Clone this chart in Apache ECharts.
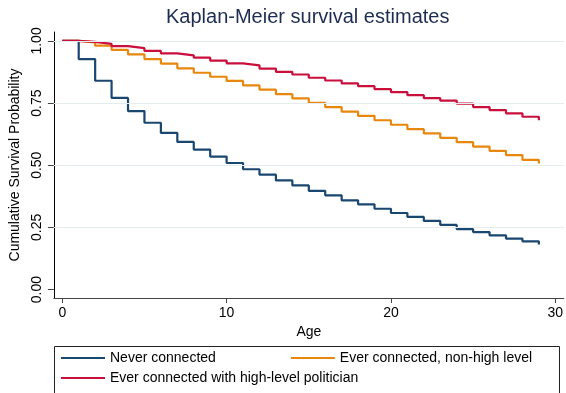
<!DOCTYPE html>
<html>
<head>
<meta charset="utf-8">
<script src="https://cdn.jsdelivr.net/npm/echarts@6/dist/echarts.min.js"></script>
<style>html,body{margin:0;padding:0;background:#fff;}#c{width:566px;height:393px;}</style>
</head>
<body>
<div id="c"></div>
<script>
const ages = [0,1,2,3,4,5,6,7,8,9,10,11,12,13,14,15,16,17,18,19,20,21,22,23,24,25,26,27,28,29];
const neverConnected = [1.000,0.927,0.840,0.771,0.718,0.671,0.630,0.594,0.563,0.535,0.509,0.484,0.462,0.439,0.419,0.397,0.379,0.359,0.343,0.325,0.308,0.292,0.276,0.260,0.243,0.231,0.218,0.205,0.194,0.181];
const everNonHigh = [1.000,0.994,0.981,0.964,0.946,0.927,0.909,0.890,0.872,0.856,0.839,0.821,0.804,0.786,0.769,0.751,0.734,0.716,0.699,0.681,0.663,0.645,0.628,0.610,0.593,0.575,0.558,0.541,0.522,0.507];
const everHigh = [1.000,0.996,0.988,0.979,0.971,0.960,0.950,0.942,0.933,0.921,0.910,0.902,0.889,0.876,0.865,0.852,0.841,0.829,0.818,0.806,0.794,0.782,0.770,0.760,0.748,0.734,0.722,0.709,0.695,0.681];
const seriesNames = ['Never connected','Ever connected, non-high level','Ever connected with high-level politician'];
const xTicks = [0,10,20,30];
const yTicks = [0,0.25,0.5,0.75,1];
const yGrid = [0.25,0.5,0.75,1];

const FONT = "'Liberation Sans', Arial, sans-serif";
const colors = ['#1a476f','#e8870e','#c90f3c'];
const pairs = arr => ages.map((a,i)=>[a,arr[i]]);

const legendText = {fontFamily:FONT,fontSize:14,color:'#000',lineHeight:16};
const chart = echarts.init(document.getElementById('c'), null, {renderer:'canvas'});
chart.setOption({
  animation:false,
  textStyle:{fontFamily:FONT},
  title:{text:'Kaplan-Meier survival estimates', left:161, top:2,
    textStyle:{fontFamily:FONT,fontSize:20,fontWeight:'normal',color:'#1e2c52'}},
  grid:{left:49,right:0,top:32,bottom:95,containLabel:false},
  xAxis:{type:'value',min:-0.51,max:30.52,
    name:'Age',nameLocation:'middle',nameGap:23,
    nameTextStyle:{fontFamily:FONT,fontSize:14,color:'#000'},
    axisLine:{show:true,onZero:false,lineStyle:{color:'#444',width:1}},
    axisTick:{show:true,length:5,customValues:xTicks,lineStyle:{color:'#444'}},
    axisLabel:{customValues:xTicks,margin:8,fontFamily:FONT,fontSize:14,color:'#000',formatter:v=>String(v)},
    splitLine:{show:false}},
  yAxis:{type:'value',min:-0.034,max:1.036,
    name:'Cumulative Survival Probability',nameLocation:'middle',nameGap:28,
    nameTextStyle:{fontFamily:FONT,fontSize:14,color:'#000'},
    axisLine:{show:true,onZero:false,lineStyle:{color:'#000',width:1}},
    axisTick:{show:true,length:6,customValues:yTicks,lineStyle:{color:'#444'}},
    axisLabel:{customValues:yTicks,rotate:90,margin:10,fontFamily:FONT,fontSize:14,color:'#000',formatter:v=>v.toFixed(2)},
    splitLine:{show:false}},
  legend:[
    {data:[seriesNames[0],seriesNames[1]],left:61,top:350,padding:0,orient:'horizontal',itemGap:75,icon:'rect',
      itemWidth:44,itemHeight:2,textStyle:legendText,selectedMode:false},
    {data:[seriesNames[2]],left:61,top:370,padding:0,orient:'horizontal',icon:'rect',
      itemWidth:44,itemHeight:2,textStyle:legendText,selectedMode:false}
  ],
  graphic:[{type:'rect',shape:{x:54.5,y:346.5,width:505,height:60},style:{fill:'none',stroke:'#222',lineWidth:1},silent:true}],
  series:[
    {type:'line',name:'grid',data:[],z:1,silent:true,
      markLine:{silent:true,symbol:'none',label:{show:false},
        lineStyle:{color:'#e4ecee',width:1,type:'solid'},
        data:yGrid.map(v=>({yAxis:v}))}},
    ...[neverConnected,everNonHigh,everHigh].map((arr,i)=>({
      type:'line',name:seriesNames[i],data:pairs(arr),step:'end',symbol:'none',showSymbol:false,
      z:2+i,lineStyle:{color:colors[i],width:2.2},itemStyle:{color:colors[i]}
    }))
  ]
});
</script>
</body>
</html>
